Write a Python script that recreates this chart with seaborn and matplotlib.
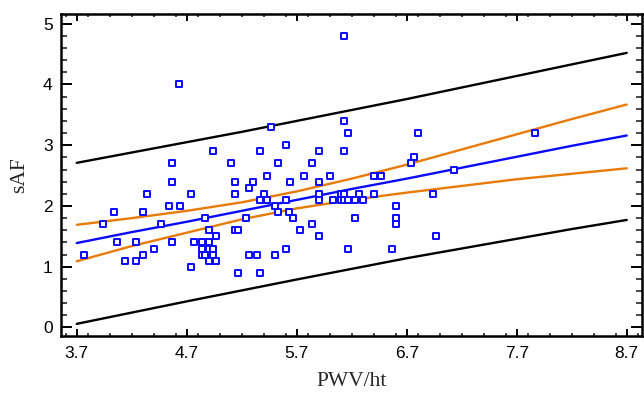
import numpy as np
import pandas as pd
import matplotlib
matplotlib.use("Agg")
import matplotlib.pyplot as plt
import seaborn as sns
from matplotlib.ticker import MultipleLocator, FixedLocator

# ---- data ----
pwv = [6.13, 4.63, 6.13, 5.47,
       6.17, 6.80, 7.87,
       5.60,
       4.94, 5.37, 5.90, 6.13,
       6.77,
       4.57, 5.10, 5.53, 5.84, 6.74,
       7.13,
       5.43, 5.77, 6.00, 6.40, 6.47,
       4.57, 5.14, 5.30, 5.64, 5.90,
       5.27,
       4.34, 4.74, 5.14, 5.40, 5.90, 6.10, 6.13, 6.27, 6.40, 6.94,
       5.37, 5.43, 5.60, 5.90, 6.03, 6.10, 6.13, 6.17, 6.23, 6.30,
       4.54, 4.64, 5.50, 6.60,
       4.04, 4.30, 5.53, 5.63,
       4.87, 5.24, 5.67, 6.23, 6.60,
       3.94, 4.47, 5.84, 6.60,
       4.90, 5.14, 5.17, 5.73,
       4.97, 5.90, 6.97,
       4.07, 4.24, 4.57, 4.77, 4.84, 4.90,
       4.40, 4.84, 4.90, 4.94, 5.60, 6.17, 6.57,
       3.77, 4.30, 4.84, 4.87, 4.94, 5.27, 5.34, 5.50,
       4.14, 4.24, 4.90, 4.97,
       4.74,
       5.17, 5.37]
saf = [4.8, 4.0, 3.4, 3.3,
       3.2, 3.2, 3.2,
       3.0,
       2.9, 2.9, 2.9, 2.9,
       2.8,
       2.7, 2.7, 2.7, 2.7, 2.7,
       2.6,
       2.5, 2.5, 2.5, 2.5, 2.5,
       2.4, 2.4, 2.4, 2.4, 2.4,
       2.3,
       2.2, 2.2, 2.2, 2.2, 2.2, 2.2, 2.2, 2.2, 2.2, 2.2,
       2.1, 2.1, 2.1, 2.1, 2.1, 2.1, 2.1, 2.1, 2.1, 2.1,
       2.0, 2.0, 2.0, 2.0,
       1.9, 1.9, 1.9, 1.9,
       1.8, 1.8, 1.8, 1.8, 1.8,
       1.7, 1.7, 1.7, 1.7,
       1.6, 1.6, 1.6, 1.6,
       1.5, 1.5, 1.5,
       1.4, 1.4, 1.4, 1.4, 1.4, 1.4,
       1.3, 1.3, 1.3, 1.3, 1.3, 1.3, 1.3,
       1.2, 1.2, 1.2, 1.2, 1.2, 1.2, 1.2, 1.2,
       1.1, 1.1, 1.1, 1.1,
       1.0,
       0.9, 0.9]

line_x = [3.7, 4.2, 4.7, 5.2, 5.7, 6.2, 6.7, 7.2, 7.7, 8.2, 8.7]
fit_y = [1.39, 1.57, 1.74, 1.92, 2.10, 2.28, 2.45, 2.63, 2.81, 2.99, 3.16]
ci_upper = [1.69, 1.80, 1.92, 2.06, 2.24, 2.45, 2.68, 2.93, 3.18, 3.43, 3.67]
ci_lower = [1.09, 1.34, 1.56, 1.78, 1.96, 2.10, 2.22, 2.33, 2.44, 2.53, 2.62]
pi_upper = [2.71, 2.88, 3.05, 3.22, 3.40, 3.58, 3.76, 3.95, 4.14, 4.33, 4.52]
pi_lower = [0.06, 0.245, 0.43, 0.61, 0.79, 0.965, 1.14, 1.30, 1.46, 1.62, 1.77]

x_ticks = [3.7, 4.7, 5.7, 6.7, 7.7, 8.7]
x_ticklabels = ["3.7", "4.7", "5.7", "6.7", "7.7", "8.7"]
y_ticks = [0, 1, 2, 3, 4, 5]

# ---- style ----
sns.set_style("white")
plt.rcParams["font.family"] = ["Liberation Sans", "DejaVu Sans"]

points = pd.DataFrame({"PWV/ht": pwv, "sAF": saf})
lines = pd.DataFrame({"x": line_x, "fit": fit_y, "ciu": ci_upper, "cil": ci_lower,
                      "piu": pi_upper, "pil": pi_lower})

fig = plt.figure(figsize=(6.44, 3.95), dpi=100)
ax = fig.add_axes([61 / 644, 1 - 336 / 395, (642 - 61) / 644, (336 - 14) / 395])

BLACK = "#000000"
ORANGE = "#e87b06"
BLUE = "#0a0aff"
lw = 1.7

sns.lineplot(data=lines, x="x", y="piu", ax=ax, color=BLACK, lw=lw)
sns.lineplot(data=lines, x="x", y="pil", ax=ax, color=BLACK, lw=lw)
sns.lineplot(data=lines, x="x", y="ciu", ax=ax, color=ORANGE, lw=lw)
sns.lineplot(data=lines, x="x", y="cil", ax=ax, color=ORANGE, lw=lw)
sns.lineplot(data=lines, x="x", y="fit", ax=ax, color=BLUE, lw=lw)

sns.scatterplot(data=points, x="PWV/ht", y="sAF", ax=ax, marker="s", s=13,
                facecolor="white", edgecolor=BLUE, linewidth=1.4, zorder=5)

ax.set_xlim(3.557, 8.839)
ax.set_ylim(-0.14, 5.16)
ax.xaxis.set_major_locator(FixedLocator(x_ticks))
ax.set_xticklabels(x_ticklabels)
ax.xaxis.set_minor_locator(MultipleLocator(0.2))
ax.yaxis.set_major_locator(FixedLocator(y_ticks))
ax.yaxis.set_minor_locator(MultipleLocator(0.2))

for s in ax.spines.values():
    s.set_visible(True)
    s.set_linewidth(1.8)
    s.set_color("black")

ax.tick_params(axis="x", which="major", direction="in", length=5, width=1.4,
               top=True, bottom=True, labelsize=12.5, pad=7, colors="black")
ax.tick_params(axis="x", which="minor", direction="in", length=2.5, width=1.2,
               top=True, bottom=True)
ax.tick_params(axis="y", which="major", direction="in", length=8, width=1.4,
               left=True, right=True, labelsize=12.5, pad=6, colors="black")
ax.tick_params(axis="y", which="minor", direction="in", length=4.5, width=1.2,
               left=True, right=True)

ax.set_xlabel("PWV/ht", family=["Liberation Serif", "DejaVu Serif"], fontsize=15.5, labelpad=8)
ax.set_ylabel("sAF", family=["Liberation Serif", "DejaVu Serif"], fontsize=15.5, labelpad=10)

fig.savefig("out.png", dpi=100)
